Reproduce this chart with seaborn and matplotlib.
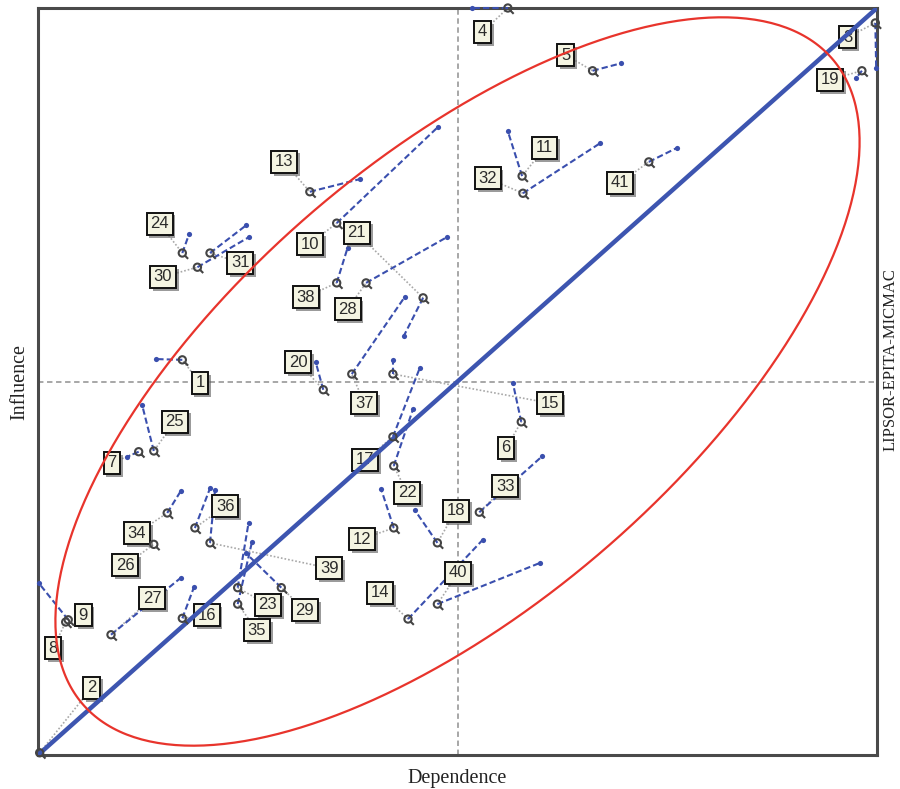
import numpy as np
import pandas as pd
import seaborn as sns
import matplotlib.pyplot as plt
from matplotlib.path import Path
from matplotlib import patheffects

# MICMAC direct/indirect influence-dependence map, scale 0-100 on both axes
variables = [str(i) for i in range(1, 42)]
dependence = [17.2, 0.2, 99.8, 56.0, 66.1, 57.6, 12.0, 3.3, 3.6, 35.6,
              57.7, 42.4, 32.4, 44.1, 42.3, 17.2, 42.3, 47.6, 98.2, 34.0,
              45.9, 42.4, 23.8, 17.2, 13.8, 13.8, 8.7, 39.1, 29.0, 19.0,
              20.5, 57.8, 52.6, 15.4, 23.8, 18.7, 37.4, 35.6, 20.5, 47.6,
              72.8]
influence = [52.9, 0.3, 98.0, 100.0, 91.6, 44.6, 40.6, 17.8, 18.1, 71.2,
             77.5, 30.4, 75.4, 18.2, 51.0, 18.3, 42.6, 28.4, 91.6, 48.9,
             61.2, 38.7, 22.4, 67.2, 40.7, 28.2, 16.1, 63.2, 22.4, 65.3,
             67.2, 75.2, 32.5, 32.4, 20.2, 30.4, 51.0, 63.2, 28.4, 20.2,
             79.4]
# where the numbered tag sits
label_x = [19.3, 6.4, 96.5, 53.0, 62.9, 55.8, 8.8, 1.8, 5.4, 32.4,
           60.4, 38.6, 29.3, 40.8, 61.0, 20.1, 39.0, 49.8, 94.4, 31.0,
           38.0, 44.0, 27.4, 14.5, 16.3, 10.4, 13.6, 36.9, 31.8, 14.9,
           24.1, 53.6, 55.7, 11.8, 26.1, 22.3, 38.9, 31.9, 34.7, 50.1,
           69.4]
label_y = [49.8, 9.0, 96.1, 96.8, 93.7, 41.1, 39.1, 14.3, 18.7, 68.4,
           81.3, 28.9, 79.4, 21.7, 47.1, 18.7, 39.5, 32.7, 90.4, 52.6,
           69.9, 35.1, 20.1, 71.1, 44.6, 25.4, 21.0, 59.7, 19.4, 64.0,
           65.9, 77.2, 36.0, 29.7, 16.7, 33.3, 47.1, 61.3, 25.0, 24.4,
           76.6]
# indirect position (end of the blue displacement)
shift_x = [14.1, np.nan, 99.9, 51.7, 69.5, 56.6, 10.6, np.nan, 0.1, 47.7,
           56.0, 40.9, 38.4, 53.0, 42.3, 18.6, 45.5, 44.9, 97.5, 33.1,
           43.6, 44.7, 25.1, 18.0, 12.4, np.nan, 17.0, 48.7, 24.8, 25.1,
           24.8, 67.0, 60.1, 17.0, 25.5, 20.5, 43.7, 36.9, 21.1, 59.8,
           76.2]
shift_y = [53.0, np.nan, 92.0, 100.0, 92.6, 49.8, 39.9, np.nan, 23.0, 84.1,
           83.5, 35.6, 77.1, 28.8, 52.9, 22.5, 51.8, 32.8, 90.6, 52.6,
           56.1, 46.3, 31.1, 69.7, 46.9, np.nan, 23.7, 69.3, 27.0, 69.3,
           70.9, 81.9, 40.0, 35.3, 28.5, 35.7, 61.3, 67.9, 35.5, 25.7,
           81.3]

ellipse_center = (50.0, 50.0)
ellipse_major = (44.0, 44.0)
ellipse_minor = (-19.0, 21.0)

BLUE = "#3a4fae"
DIAG_BLUE = "#3d55b0"
RED = "#e8342c"


def magnifier_marker():
    circle = Path.unit_circle()
    tail = Path([(0.7, -0.7), (1.6, -1.6)], [Path.MOVETO, Path.LINETO])
    return Path.make_compound_path(circle, tail)


def plot_map(df):
    fig = plt.figure(figsize=(9, 7.89), dpi=100)
    ax = fig.add_axes([38 / 900, 34 / 789, 839 / 900, 747 / 789])
    ax.set_xlim(0, 100)
    ax.set_ylim(0, 100)

    # quadrant cross
    ax.axvline(50, color="#a0a0a0", lw=1.3, ls=(0, (3, 2)), zorder=1)
    ax.axhline(50, color="#a0a0a0", lw=1.3, ls=(0, (3, 2)), zorder=1)

    # tag -> point connectors
    for _, r in df.iterrows():
        ax.plot([r.label_x, r.dependence], [r.label_y, r.influence], color="#a8a8a8",
                lw=1.2, ls=(0, (1, 1.2)), zorder=2, clip_on=False)

    # displacement vectors
    moved = df.dropna(subset=["shift_x"])
    for _, r in moved.iterrows():
        ax.plot([r.dependence, r.shift_x], [r.influence, r.shift_y], color=BLUE,
                lw=1.5, ls=(0, (3, 1.5)), zorder=3, clip_on=False)
    sns.scatterplot(data=moved, x="shift_x", y="shift_y", color=BLUE, s=14, linewidth=0,
                    ax=ax, zorder=3, clip_on=False)

    # numbered tags
    for _, r in df.iterrows():
        t = ax.text(r.label_x, r.label_y, r.variable, ha="center", va="center",
                    fontsize=12, color="#2a2a2a", family="Liberation Sans", zorder=4,
                    bbox=dict(boxstyle="square,pad=0.22", facecolor="#f4f4e2",
                              edgecolor="#111111", lw=1.4))
        t.get_bbox_patch().set_path_effects([
            patheffects.SimplePatchShadow(offset=(2, -2), shadow_rgbFace="0.35", alpha=0.6),
            patheffects.Normal()])

    # diagonal and ellipse
    sns.lineplot(x=[0, 100], y=[0, 100], color=DIAG_BLUE, lw=3.2, ax=ax, zorder=5)
    t = np.linspace(0, 2 * np.pi, 400)
    ex = ellipse_center[0] + np.cos(t) * ellipse_major[0] + np.sin(t) * ellipse_minor[0]
    ey = ellipse_center[1] + np.cos(t) * ellipse_major[1] + np.sin(t) * ellipse_minor[1]
    ax.plot(ex, ey, color=RED, lw=1.6, zorder=5)

    sns.scatterplot(data=df, x="dependence", y="influence", marker=magnifier_marker(), s=70,
                    facecolor="none", edgecolor="#444444", linewidth=1.5, ax=ax,
                    zorder=6, clip_on=False)

    ax.set_xticks([])
    ax.set_yticks([])
    for sp in ax.spines.values():
        sp.set_color("#4a4a4a")
        sp.set_linewidth(2.2)
    ax.set_xlabel("Dependence", fontsize=14.5, family="Liberation Serif", color="#222", labelpad=10)
    ax.set_ylabel("Influence", fontsize=14.5, family="Liberation Serif", color="#222", labelpad=6)
    fig.text(899 / 900, 1 - 360 / 789, "LIPSOR-EPITA-MICMAC", rotation=90, ha="right",
             va="center", fontsize=12, family="Liberation Serif", color="#222")

    fig.savefig("out.png", dpi=100)


if __name__ == "__main__":
    sns.set_theme(style="white")
    df = pd.DataFrame({"variable": variables, "dependence": dependence, "influence": influence,
                       "label_x": label_x, "label_y": label_y,
                       "shift_x": shift_x, "shift_y": shift_y})
    plot_map(df)
